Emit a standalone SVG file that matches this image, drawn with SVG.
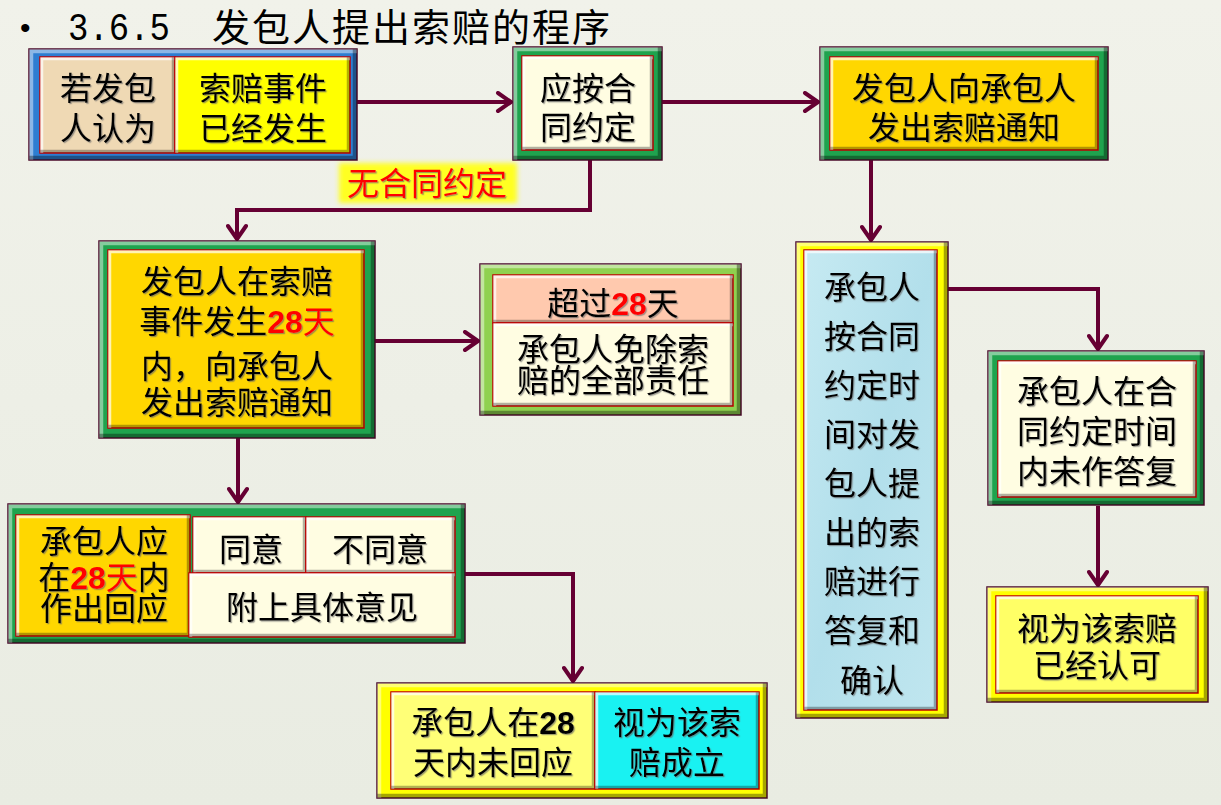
<svg xmlns="http://www.w3.org/2000/svg" width="1221" height="805" viewBox="0 0 1221 805">
<defs>
<linearGradient id="bg" x1="0" y1="0" x2="0" y2="1">
<stop offset="0" stop-color="#f1f2ea"/><stop offset="1" stop-color="#e9ece2"/>
</linearGradient>
<linearGradient id="ice" x1="0" y1="0" x2="1" y2="1">
<stop offset="0" stop-color="#c6eaf2"/><stop offset="0.5" stop-color="#b2dfeb"/><stop offset="1" stop-color="#c0e6ef"/>
</linearGradient>
<filter id="bf" x="-5%" y="-5%" width="110%" height="110%" color-interpolation-filters="sRGB">
<feMorphology in="SourceAlpha" operator="erode" radius="1" result="a"/>
<feOffset in="a" dx="4" dy="4" result="o1"/>
<feComposite in="a" in2="o1" operator="out" result="tl"/>
<feFlood flood-color="#ffffff" flood-opacity="0.45"/>
<feComposite in2="tl" operator="in" result="hl"/>
<feOffset in="a" dx="-4" dy="-4" result="o2"/>
<feComposite in="a" in2="o2" operator="out" result="br"/>
<feFlood flood-color="#000000" flood-opacity="0.35"/>
<feComposite in2="br" operator="in" result="sh"/>
<feMerge><feMergeNode in="SourceGraphic"/><feMergeNode in="hl"/><feMergeNode in="sh"/></feMerge>
</filter>
<filter id="bc" x="-5%" y="-5%" width="110%" height="110%" color-interpolation-filters="sRGB">
<feMorphology in="SourceAlpha" operator="erode" radius="1" result="a"/>
<feOffset in="a" dx="3" dy="3" result="o1"/>
<feComposite in="a" in2="o1" operator="out" result="tl"/>
<feFlood flood-color="#ffffff" flood-opacity="0.7"/>
<feComposite in2="tl" operator="in" result="hl"/>
<feOffset in="a" dx="-3" dy="-3" result="o2"/>
<feComposite in="a" in2="o2" operator="out" result="br"/>
<feFlood flood-color="#000000" flood-opacity="0.3"/>
<feComposite in2="br" operator="in" result="sh"/>
<feMerge><feMergeNode in="SourceGraphic"/><feMergeNode in="hl"/><feMergeNode in="sh"/></feMerge>
</filter>
<filter id="ts" x="-5%" y="-10%" width="110%" height="130%">
<feDropShadow dx="1.2" dy="1.2" stdDeviation="0.5" flood-color="#666666" flood-opacity="0.6"/>
</filter>
<filter id="glow" x="-10%" y="-20%" width="120%" height="140%">
<feGaussianBlur stdDeviation="2.5"/>
</filter>
<marker id="ah" viewBox="0 0 22 22" markerWidth="22" markerHeight="22" refX="18" refY="11" orient="auto" markerUnits="userSpaceOnUse">
<path d="M5,2 L18,11 L5,20" fill="none" stroke="#660033" stroke-width="4" stroke-linecap="round" stroke-linejoin="round"/>
</marker>
<style>
.t{font-family:"Noto Sans CJK SC","Noto Sans",sans-serif;font-size:32px;fill:#000;text-anchor:middle;filter:url(#ts)}
.n{font-family:"Liberation Sans",Arial,sans-serif;font-weight:bold}
.r{fill:#ff0000}
.c{stroke:#660033;stroke-width:4;fill:none;marker-end:url(#ah)}
.fr{stroke:#4a0a2a;stroke-width:1.5;filter:url(#bf)}
.cl{stroke:#c00000;stroke-width:1.5;filter:url(#bc)}
.green{fill:#1fa34e}
.blue{fill:#2e7dd1}
.lgreen{fill:#8fd14f}
.yel{fill:#ffff00}
.cream{fill:#fffde2}
.gold{fill:#ffd700}
</style>
</defs>
<rect x="0" y="0" width="1221" height="805" fill="url(#bg)"/>

<g id="title">
<text x="20" y="38" style="font-family:'Liberation Sans',sans-serif;font-size:30px">•</text>
<text x="68" y="40" textLength="102" lengthAdjust="spacingAndGlyphs" style="font-family:'Liberation Mono',monospace;font-size:38px">3.6.5</text>
<text x="212" y="41" textLength="398" style="font-family:'Noto Sans CJK SC',sans-serif;font-size:38px">发包人提出索赔的程序</text>
</g>

<g id="connectors">
<path class="c" d="M357,102 H511"/>
<path class="c" d="M662,102 H818"/>
<path class="c" d="M590,160 V210 H237 V239"/>
<path class="c" d="M871,160 V240"/>
<path class="c" d="M375,341 H478"/>
<path class="c" d="M238,438 V502"/>
<path class="c" d="M465,574 H573 V681"/>
<path class="c" d="M948,289 H1098 V349"/>
<path class="c" d="M1098,506 V585"/>
</g>

<g id="label-no-contract">
<rect x="339" y="163" width="178" height="40" fill="#ffff20" filter="url(#glow)"/>
<text class="t r" x="427" y="195">无合同约定</text>
</g>

<g id="n1">
<rect class="fr blue" x="29" y="49" width="328" height="111"/>
<rect class="cl" x="40" y="57" width="135" height="96" fill="#efd9b4"/>
<rect class="cl yel" x="175" y="57" width="175" height="96"/>
<text class="t" x="108" y="100">若发包<tspan x="108" dy="40">人认为</tspan></text>
<text class="t" x="263" y="100">索赔事件<tspan x="263" dy="40">已经发生</tspan></text>
</g>

<g id="n2">
<rect class="fr green" x="513" y="47" width="149" height="113"/>
<rect class="cl cream" x="522" y="56" width="131" height="94"/>
<text class="t" x="588" y="100">应按合<tspan x="588" dy="39">同约定</tspan></text>
</g>

<g id="n3">
<rect class="fr green" x="820" y="47" width="288" height="113"/>
<rect class="cl gold" x="830" y="57" width="268" height="93"/>
<text class="t" x="964" y="100">发包人向承包人<tspan x="964" dy="39">发出索赔通知</tspan></text>
</g>

<g id="n4">
<rect class="fr green" x="99" y="241" width="276" height="197"/>
<rect class="cl gold" x="108" y="250" width="256" height="178"/>
<text class="t" x="237" y="293">发包人在索赔<tspan x="237" dy="40">事件发生</tspan><tspan class="n r">28</tspan><tspan class="r">天</tspan><tspan x="237" dy="45">内，向承包人</tspan><tspan x="237" dy="36">发出索赔通知</tspan></text>
</g>

<g id="n5">
<rect class="fr lgreen" x="480" y="264" width="261" height="151"/>
<rect class="cl" x="493" y="275" width="240" height="48" fill="#ffc9ae"/>
<rect class="cl cream" x="493" y="323" width="240" height="83"/>
<text class="t" x="613" y="315">超过<tspan class="n r">28</tspan>天</text>
<text class="t" x="613" y="361">承包人免除索<tspan x="613" dy="31">赔的全部责任</tspan></text>
</g>

<g id="n6">
<rect class="fr green" x="8" y="504" width="457" height="139"/>
<rect class="cl gold" x="16" y="515" width="174" height="121"/>
<rect class="cl cream" x="193" y="517" width="113" height="56"/>
<rect class="cl cream" x="306" y="517" width="149" height="56"/>
<rect class="cl cream" x="189" y="573" width="266" height="64"/>
<text class="t" x="104" y="553">承包人应<tspan x="104" dy="36">在</tspan><tspan class="n r">28</tspan><tspan class="r">天</tspan>内<tspan x="104" dy="31">作出回应</tspan></text>
<text class="t" x="251" y="561">同意</text>
<text class="t" x="380" y="561">不同意</text>
<text class="t" x="322" y="619">附上具体意见</text>
</g>

<g id="n7">
<rect class="fr yel" x="377" y="683" width="390" height="115"/>
<rect class="cl" x="391" y="692" width="204" height="97" fill="#ffff77"/>
<rect class="cl" x="595" y="692" width="164" height="97" fill="#19f2f2"/>
<text class="t" x="493" y="734">承包人在<tspan class="n">28</tspan><tspan x="493" dy="40">天内未回应</tspan></text>
<text class="t" x="677" y="734">视为该索<tspan x="677" dy="40">赔成立</tspan></text>
</g>

<g id="n8">
<rect class="fr yel" x="796" y="242" width="152" height="476"/>
<rect class="cl" x="804" y="250" width="133" height="460" fill="url(#ice)"/>
<text class="t" x="872" y="299">承包人<tspan x="872" dy="49">按合同</tspan><tspan x="872" dy="49">约定时</tspan><tspan x="872" dy="49">间对发</tspan><tspan x="872" dy="49">包人提</tspan><tspan x="872" dy="49">出的索</tspan><tspan x="872" dy="49">赔进行</tspan><tspan x="872" dy="49">答复和</tspan><tspan x="872" dy="50">确认</tspan></text>
</g>

<g id="n9">
<rect class="fr green" x="988" y="351" width="216" height="154"/>
<rect class="cl cream" x="998" y="361" width="198" height="136"/>
<text class="t" x="1097" y="403">承包人在合<tspan x="1097" dy="40">同约定时间</tspan><tspan x="1097" dy="40">内未作答复</tspan></text>
</g>

<g id="n10">
<rect class="fr yel" x="987" y="587" width="221" height="115"/>
<rect class="cl" x="996" y="596" width="202" height="97" fill="#ffff66"/>
<text class="t" x="1097" y="640">视为该索赔<tspan x="1097" dy="37">已经认可</tspan></text>
</g>
</svg>
